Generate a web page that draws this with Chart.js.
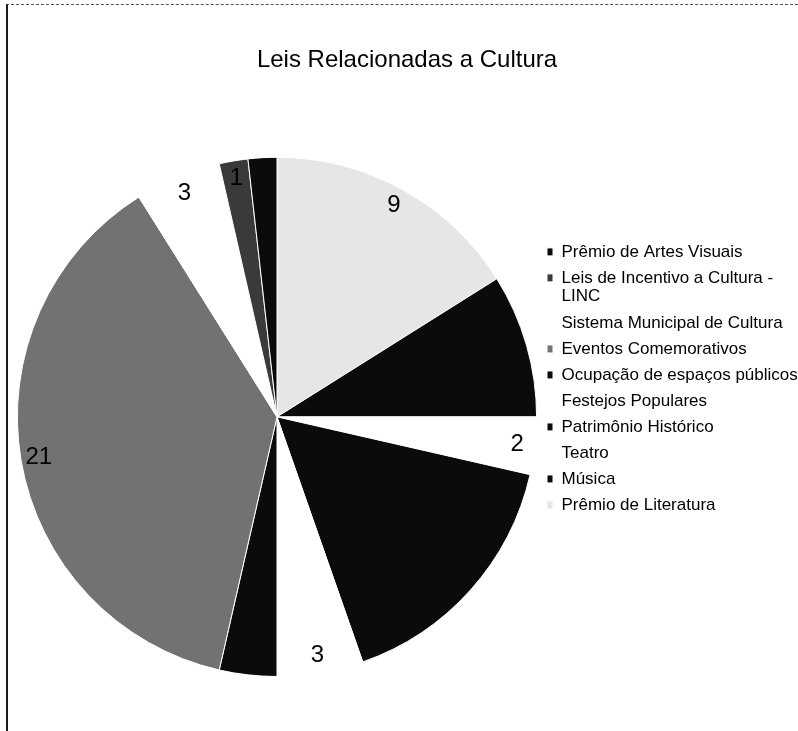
<!DOCTYPE html>
<html lang="pt">
<head>
  <meta charset="UTF-8" />
  <title>Leis Relacionadas a Cultura</title>
  <script src="https://cdn.jsdelivr.net/npm/chart.js"></script>
  <style>
    body { margin: 0; background: #fff; }
    .wrap { position: relative; width: 798px; height: 731px; overflow: hidden; }
    .frame {
      position: absolute; left: 6px; top: 4px; right: 0; bottom: 0;
      border-left: 2px solid #1a1a1a;
      border-top: 1px dashed #555;
    }
    canvas { position: absolute; left: 0; top: 0; }
  </style>
</head>
<body>
  <div class="wrap">
    <div class="frame"></div>
    <canvas id="leisChart" width="798" height="731"></canvas>
  </div>

  <script>
    // ordem da legenda
    const categorias = [
      "Prêmio de Artes Visuais",
      ["Leis de Incentivo a Cultura -", "LINC"],
      "Sistema Municipal de Cultura",
      "Eventos Comemorativos",
      "Ocupação de espaços públicos",
      "Festejos Populares",
      "Patrimônio Histórico",
      "Teatro",
      "Música",
      "Prêmio de Literatura"
    ];
    const quantidades = [1, 1, 3, 21, 2, 3, 9, 2, 5, 9];
    const cores = ["#0b0b0b", "#3a3a3a", "#ffffff", "#727272", "#0b0b0b",
                   "#ffffff", "#0b0b0b", "#ffffff", "#0b0b0b", "#e6e6e6"];

    // as fatias vão no sentido horário a partir do topo, começando pela última
    const labelsPizza = categorias.slice().reverse();
    const dadosPizza = quantidades.slice().reverse();
    const coresPizza = cores.slice().reverse();

    const fonte = '"Liberation Sans", Arial, sans-serif';

    function escura(cor) {
      const n = parseInt(cor.slice(1), 16);
      return ((n >> 16) + ((n >> 8) & 255) + (n & 255)) / 3 < 40;
    }

    // números dentro das fatias (perto da borda)
    const rotulosValores = {
      id: "rotulosValores",
      afterDatasetsDraw(chart) {
        const ctx = chart.ctx;
        const meta = chart.getDatasetMeta(0);
        const ds = chart.data.datasets[0];
        ctx.save();
        ctx.font = "24px " + fonte;
        ctx.fillStyle = "#000";
        ctx.textAlign = "center";
        ctx.textBaseline = "middle";
        meta.data.forEach((arco, i) => {
          if (escura(ds.backgroundColor[i])) return;
          const p = arco.getProps(["x", "y", "startAngle", "endAngle", "outerRadius"], true);
          const meio = (p.startAngle + p.endAngle) / 2;
          const r = p.outerRadius - 18;
          ctx.fillText(ds.data[i], p.x + Math.cos(meio) * r, p.y + Math.sin(meio) * r);
        });
        ctx.restore();
      }
    };

    const ctx = document.getElementById("leisChart").getContext("2d");
    new Chart(ctx, {
      type: "pie",
      data: {
        labels: labelsPizza,
        datasets: [{
          data: dadosPizza,
          backgroundColor: coresPizza,
          borderColor: "#ffffff",
          borderWidth: 1
        }]
      },
      options: {
        responsive: false,
        animation: false,
        layout: { padding: { top: 40, left: 16, right: 0, bottom: 54 } },
        plugins: {
          title: {
            display: true,
            text: "Leis Relacionadas a Cultura",
            color: "#000",
            font: { family: fonte, size: 24, weight: "normal" },
            padding: { top: 6, bottom: 82 }
          },
          legend: {
            position: "right",
            align: "start",
            reverse: true,
            maxWidth: 260,
            title: { display: true, text: "", padding: { top: 180, bottom: 0 } },
            labels: {
              color: "#000",
              boxWidth: 6,
              boxHeight: 8,
              padding: 9,
              font: { family: fonte, size: 17, lineHeight: 1.06 }
            }
          },
          tooltip: { enabled: true }
        }
      },
      plugins: [rotulosValores]
    });
  </script>
</body>
</html>
